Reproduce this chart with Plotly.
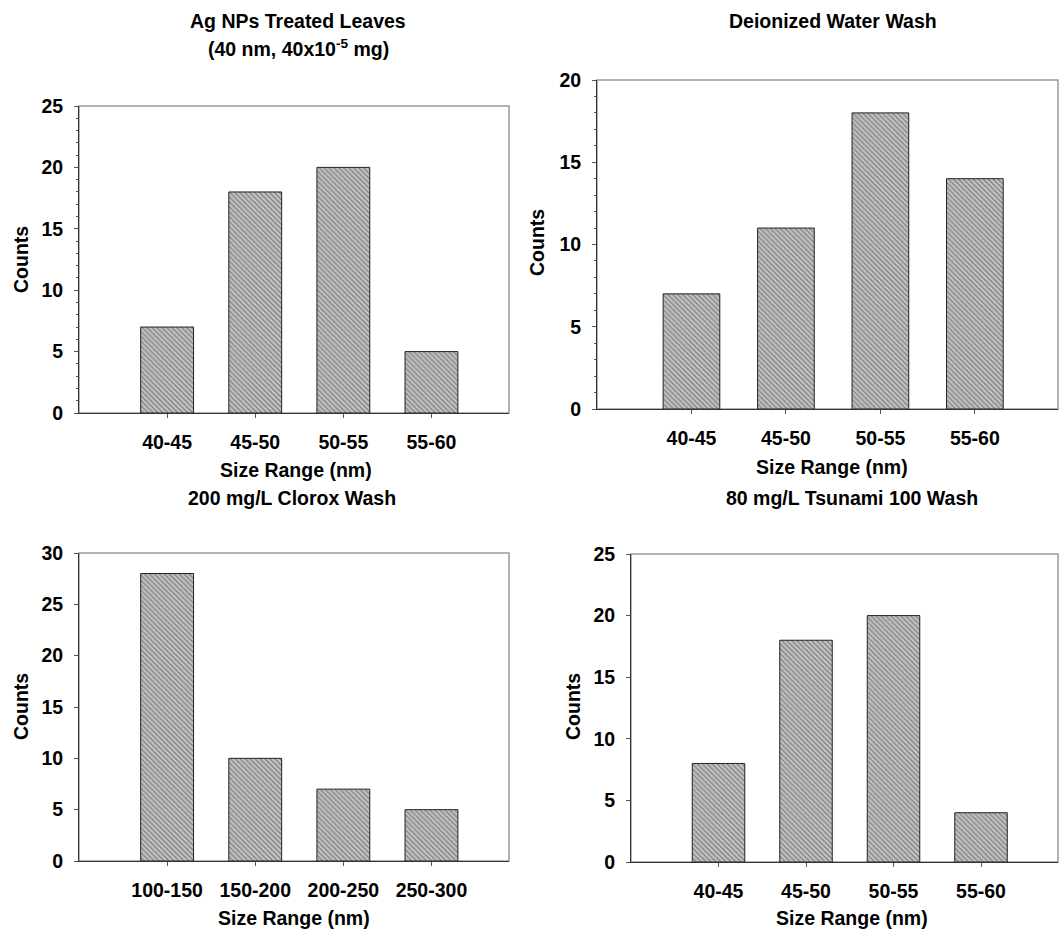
import plotly.graph_objects as go

# Size-range categories
sizes_small = ["40-45", "45-50", "50-55", "55-60"]
sizes_large = ["100-150", "150-200", "200-250", "250-300"]

# Particle counts per size range
counts_treated = [7, 18, 20, 5]
counts_water = [7, 11, 18, 14]
counts_clorox = [28, 10, 7, 5]
counts_tsunami = [8, 18, 20, 4]

FONT = "Liberation Sans, Arial, sans-serif"
FS = 19.5
W, H = 1059, 932

panels = [
    # (categories, values, x-domain px, y-domain px (top, bottom), y max, minor ticks)
    dict(cats=sizes_small, vals=counts_treated, xd=(79, 509), yd=(106, 413), ymax=25, minor=True),
    dict(cats=sizes_small, vals=counts_water, xd=(597, 1058), yd=(80, 409), ymax=20, minor=True),
    dict(cats=sizes_large, vals=counts_clorox, xd=(79, 509), yd=(553, 861), ymax=30, minor=False),
    dict(cats=sizes_small, vals=counts_tsunami, xd=(631, 1058), yd=(554, 862), ymax=25, minor=False),
]

fig = go.Figure()
layout = dict(
    width=W, height=H,
    margin=dict(l=0, r=0, t=0, b=0, autoexpand=False),
    paper_bgcolor="white", plot_bgcolor="white",
    showlegend=False,
    font=dict(family=FONT, size=FS, color="black"),
)
shapes = []
bold = dict(family=FONT, size=FS, color="black", weight="bold")

for i, p in enumerate(panels, start=1):
    xa = "x" if i == 1 else f"x{i}"
    ya = "y" if i == 1 else f"y{i}"
    fig.add_trace(go.Bar(
        x=list(range(len(p["cats"]))), y=p["vals"], xaxis=xa, yaxis=ya,
        width=0.6,
        marker=dict(
            color="#c4c4c4",
            line=dict(color="#222222", width=1),
            pattern=dict(shape="\\", fgcolor="#3a3a3a", bgcolor="#c4c4c4",
                         size=3.5, solidity=0.35),
        ),
    ))
    xkey = "xaxis" if i == 1 else f"xaxis{i}"
    ykey = "yaxis" if i == 1 else f"yaxis{i}"
    layout[xkey] = dict(
        domain=[p["xd"][0] / W, p["xd"][1] / W],
        anchor=ya,
        range=[-1, 3.88],
        tickmode="array", tickvals=list(range(len(p["cats"]))), ticktext=p["cats"],
        ticks="outside", ticklen=4, tickcolor="#555555",
        showline=True, linecolor="#333333", linewidth=1,
        showgrid=False, zeroline=False, automargin=False,
        tickfont=bold,
        ticklabelstandoff=8,
        fixedrange=True,
    )
    yax = dict(
        domain=[1 - p["yd"][1] / H, 1 - p["yd"][0] / H],
        anchor=xa,
        range=[0, p["ymax"]],
        dtick=5, tick0=0,
        ticks="outside", ticklen=4, tickcolor="#555555",
        showline=True, linecolor="#333333", linewidth=1,
        showgrid=False, zeroline=False, automargin=False,
        tickfont=bold,
        ticklabelstandoff=7,
        fixedrange=True,
    )
    if p["minor"]:
        yax["minor"] = dict(dtick=1, ticks="outside", ticklen=2, tickcolor="#555555", showgrid=False)
    layout[ykey] = yax
    # light frame on the top and right edges
    shapes.append(dict(type="rect", xref=f"{xa} domain", yref=f"{ya} domain",
                       x0=0, x1=1, y0=0, y1=1, line=dict(color="#9a9a9a", width=1.5),
                       layer="below"))

layout["shapes"] = shapes


def ann(text, x, y, angle=0):
    return dict(text=text, x=x / W, y=1 - y / H, xref="paper", yref="paper",
                showarrow=False, xanchor="center", yanchor="middle",
                textangle=angle, font=bold)


layout["annotations"] = [
    ann("Ag NPs Treated Leaves", 298, 21),
    ann("(40 nm, 40x10<sup>-5</sup> mg)", 298, 48),
    ann("Deionized Water Wash", 833, 21),
    ann("200 mg/L Clorox Wash", 292, 498),
    ann("80 mg/L Tsunami 100 Wash", 852, 498),
    ann("Size Range (nm)", 296, 470),
    ann("Size Range (nm)", 832, 467),
    ann("Size Range (nm)", 294, 918),
    ann("Size Range (nm)", 852, 918),
    ann("Counts", 21, 260, -90),
    ann("Counts", 537, 243, -90),
    ann("Counts", 21, 707, -90),
    ann("Counts", 573, 707, -90),
]

fig.update_layout(**layout)
fig.write_html("out.html")
